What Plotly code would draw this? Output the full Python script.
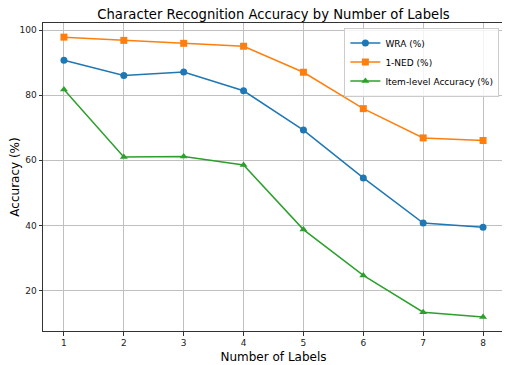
import plotly.graph_objects as go

labels = [1, 2, 3, 4, 5, 6, 7, 8]
wra = [90.8, 86.1, 87.2, 81.4, 69.3, 54.6, 40.7, 39.4]
ned = [97.9, 96.9, 96.0, 95.1, 87.1, 75.9, 66.9, 66.1]
item = [81.8, 61.0, 61.2, 58.6, 38.7, 24.6, 13.3, 11.8]

series = [
    ("WRA (%)", wra, "#1f77b4", "circle"),
    ("1-NED (%)", ned, "#ff7f0e", "square"),
    ("Item-level Accuracy (%)", item, "#2ca02c", "triangle-up"),
]

fig = go.Figure()
for name, vals, color, sym in series:
    fig.add_trace(go.Scatter(
        x=labels, y=vals, name=name, mode="lines+markers",
        line=dict(color=color, width=1.5),
        marker=dict(color=color, symbol=sym, size=7),
    ))

axis_common = dict(
    showgrid=True, gridcolor="#c0c0c0", gridwidth=1,
    showline=True, linecolor="#333333", linewidth=1, mirror=True,
    ticks="outside", ticklen=3.5, tickcolor="#333333",
    tickfont=dict(family="DejaVu Sans", size=9, color="#222222"),
    zeroline=False, automargin=False,
)

# page body has an 8px default margin, so the figure is sized/offset to compensate
fig.update_layout(
    width=502, height=357,
    margin=dict(l=35, r=6, t=15, b=34),
    paper_bgcolor="white", plot_bgcolor="white",
    font=dict(family="DejaVu Sans", color="#000000"),
    title=dict(text="Character Recognition Accuracy by Number of Labels",
               xref="paper", x=0.5, xanchor="center",
               yref="container", y=0.981, yanchor="middle",
               font=dict(size=13.2, family="DejaVu Sans")),
    xaxis=dict(range=[0.65, 8.35], tickvals=labels,
               title=dict(text="Number of Labels", font=dict(size=12), standoff=5),
               **axis_common),
    yaxis=dict(range=[7.5, 102.25], tickvals=[20, 40, 60, 80, 100],
               title=dict(text="Accuracy (%)", font=dict(size=12), standoff=9),
               **axis_common),
    legend=dict(x=0.99, y=0.985, xanchor="right", yanchor="top",
                bgcolor="rgba(255,255,255,0.8)", bordercolor="#cccccc", borderwidth=1,
                font=dict(size=9, family="DejaVu Sans"),
                tracegroupgap=0, itemwidth=30),
    showlegend=True,
)

fig.write_html("out.html")
